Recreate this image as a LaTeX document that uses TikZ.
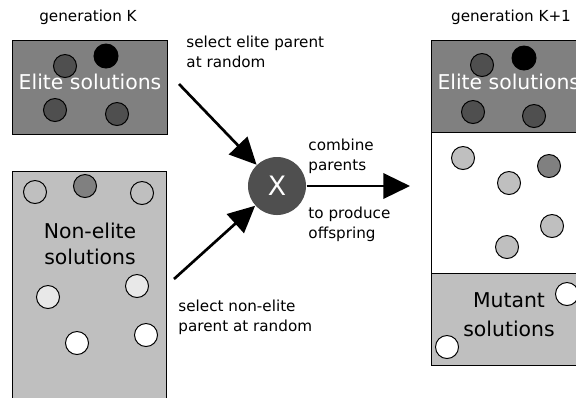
\documentclass[tikz,border=0pt]{standalone}
\usepackage{fontspec}
\setmainfont{DejaVu Sans}
\usetikzlibrary{arrows.meta}
\definecolor{elitegray}{gray}{0.5}
\definecolor{darksol}{gray}{0.31}
\definecolor{plaingray}{gray}{0.75}
\definecolor{palegray}{gray}{0.91}
\begin{document}
\begin{tikzpicture}[x=0.025cm, y=-0.025cm, line width=0.7pt,
  pool/.style={rectangle,draw,inner sep=0pt,minimum width=3.85cm},
  sol/.style={circle,draw,minimum size=0.575cm,inner sep=0pt},
  best/.style={sol,fill=black,minimum size=0.6cm},
  big/.style={font=\fontsize{14.5}{18.4}\selectfont,align=center,inner sep=0pt},
  small/.style={font=\fontsize{10.8}{14.2}\selectfont,align=left,anchor=north west,inner sep=0pt},
  pick/.style={-{Triangle[length=19pt,width=18pt]},line width=1.9pt}]
\useasboundingbox (0,0) rectangle (576,397);
\clip (0,0) rectangle (576,397);

% generation K
\node[small,anchor=base] (genk) at (88,21) {generation K};
\node[pool,fill=elitegray,minimum height=2.35cm] (elite) at (90,87) {};
\node[pool,fill=plaingray,minimum height=6.2cm,minimum width=3.825cm] (rest) at (89.5,296) {};
\begin{scope}[every node/.style={sol,fill=darksol}]
\node (e1) at (65,66) {};
\node (e3) at (55,110) {};
\node (e4) at (117,114) {};
\end{scope}
\node[best] (e2) at (106,56) {};
\node[sol] (r1) at (35,192) {};
\node[sol,fill=elitegray] (r2) at (85,186) {};
\node[sol] (r3) at (142,193) {};
\node[sol,fill=palegray] (r4) at (48,297) {};
\node[sol,fill=palegray] (r5) at (137,286) {};
\node[sol,fill=white] (r6) at (77,343) {};
\node[sol,fill=white] (r7) at (146,335) {};
\node[big,text=white] (elitetxt) at (90,82) {Elite solutions};
\node[big] (resttxt) at (90,244) {Non-elite\\solutions};

% crossover
\node[circle,fill=darksol,minimum size=1.45cm,text=white,font=\fontsize{19}{19}\selectfont] (cross) at (277,186) {X};
\coordinate (elitefrom) at (179,84);
\coordinate (restfrom) at (174,279);
\coordinate (childto) at (410,186);
\draw [pick] (elitefrom) -- (cross);
\draw [pick] (restfrom) -- (cross);
\draw [pick] (cross) -- (childto);
\node[small] (selelite) at (186,35.5) {select elite parent\\at random};
\node[small] (selrest) at (178,299.5) {select non-elite\\parent at random};
\node[small] (comb) at (308,138.5) {combine\\parents};
\node[small] (prod) at (308,206.5) {to produce\\offspring};

% generation K+1
\node[small,anchor=base] (genk1) at (511,21) {generation K+1};
\node[pool,fill=elitegray,minimum height=2.325cm] (nelite) at (509,86.5) {};
\node[pool,fill=white,minimum height=3.5cm] (child) at (509,203) {};
\node[pool,fill=plaingray,minimum height=2.3cm] (mutant) at (509,319) {};
\begin{scope}[every node/.style={sol,fill=darksol}]
\node (n1) at (482,65) {};
\node (n3) at (473,112) {};
\node (n4) at (534,116) {};
\end{scope}
\node[best] (n2) at (524,58) {};
\node[sol,fill=plaingray] (c1) at (463,158) {};
\node[sol,fill=plaingray] (c2) at (509,183) {};
\node[sol,fill=elitegray] (c3) at (549,166) {};
\node[sol,fill=plaingray] (c4) at (552,226) {};
\node[sol,fill=plaingray] (c5) at (507,247) {};
\node[sol,fill=white] (m1) at (567,294) {};
\node[sol,fill=white] (m2) at (447,347) {};
\node[big,text=white,anchor=west] (nelitetxt) at (437,82) {Elite solutions};
\node[big,font=\fontsize{14.5}{20.6}\selectfont] (mutanttxt) at (509,315) {Mutant\\solutions};
\end{tikzpicture}
\end{document}
